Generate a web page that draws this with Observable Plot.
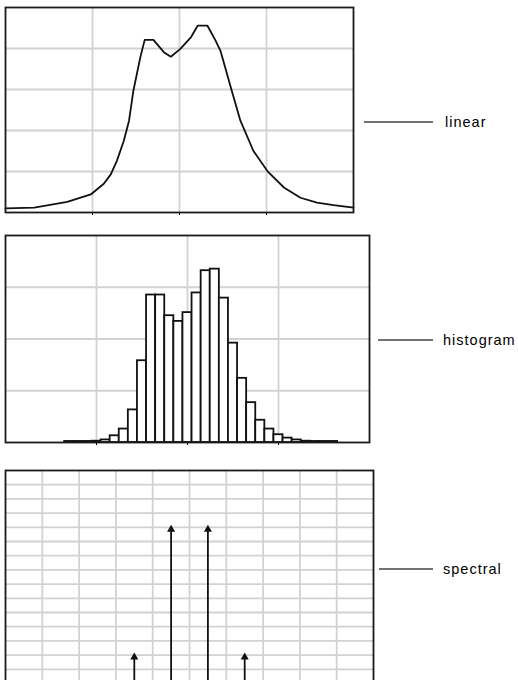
<!DOCTYPE html>
<html><head><meta charset="utf-8">
<script src="https://cdn.jsdelivr.net/npm/d3@7"></script>
<script src="https://cdn.jsdelivr.net/npm/@observablehq/plot@0.6"></script>
<style>
body{margin:0;background:#fff;}
#wrap{position:relative;width:518px;height:680px;overflow:hidden;background:#fff;}
.panel{position:absolute;left:0;}
#labels{position:absolute;left:0;top:0;}
</style></head><body>
<div id="wrap">
  <div class="panel" id="p1" style="top:0px"></div>
  <div class="panel" id="p2" style="top:228px"></div>
  <div class="panel" id="p3" style="top:463px"></div>
  <svg id="labels" width="518" height="680"></svg>
</div>
<script>
// ---- data ----
const linearX = [0, 0.33, 0.71, 0.98, 1.13, 1.21, 1.28, 1.36, 1.42, 1.47, 1.55, 1.60, 1.70, 1.82, 1.90, 2.01, 2.13, 2.21, 2.32, 2.41, 2.47, 2.59, 2.70, 2.85, 3.01, 3.20, 3.39, 3.58, 3.77, 4.0];
const linearY = [0.10, 0.12, 0.26, 0.44, 0.70, 0.93, 1.26, 1.75, 2.24, 2.97, 3.79, 4.21, 4.21, 3.91, 3.80, 3.99, 4.27, 4.56, 4.56, 4.21, 3.95, 3.05, 2.24, 1.50, 1.01, 0.61, 0.36, 0.24, 0.18, 0.12];

const histCenters = [0.7, 0.8, 0.9, 1.0, 1.1, 1.2, 1.3, 1.4, 1.5, 1.6, 1.7, 1.8, 1.9, 2.0, 2.1, 2.2, 2.3, 2.4, 2.5, 2.6, 2.7, 2.8, 2.9, 3.0, 3.1, 3.2, 3.3, 3.4, 3.5, 3.6];
const histCounts  = [0.02, 0.02, 0.02, 0.025, 0.05, 0.13, 0.26, 0.63, 1.58, 2.85, 2.85, 2.45, 2.34, 2.51, 2.89, 3.32, 3.35, 2.79, 1.92, 1.24, 0.77, 0.43, 0.26, 0.15, 0.085, 0.05, 0.025, 0.02, 0.02, 0.02];
const histBinWidth = 0.1;

const spectralX = [3.5, 4.5, 5.5, 6.5];
const spectralY = [2, 11, 11, 2];

const panelLabels = ["linear", "histogram", "spectral"];

// ---- tables built from arrays ----
const linearData = linearX.map((x, i) => ({x, y: linearY[i]}));
const histData = histCenters.map((c, i) => ({x1: c - histBinWidth / 2, x2: c + histBinWidth / 2, y: histCounts[i]}));
const spectralData = spectralX.map((x, i) => ({x, y: spectralY[i]}));

const GRID = "#d2d2d2";
function panel(o) {
  return Plot.plot({
    width: o.width, height: o.height,
    marginTop: 7, marginBottom: o.mb, marginLeft: 5, marginRight: o.mr,
    x: {domain: o.xd, axis: "bottom", ticks: o.xt, tickSize: 3, tickFormat: () => "", label: null},
    y: {domain: o.yd, axis: null},
    style: {background: "transparent", overflow: "visible"},
    marks: [
      Plot.ruleX(o.xt, {stroke: GRID, strokeWidth: 1.8}),
      Plot.ruleY(o.yt, {stroke: GRID, strokeWidth: 1.8}),
      ...o.marks,
      Plot.frame({stroke: "#1a1a1a", strokeWidth: 1.8})
    ]
  });
}

document.getElementById("p1").append(panel({
  width: 360, height: 230, mb: 18, mr: 7,
  xd: [0, 4], yd: [0, 5], xt: [1, 2, 3], yt: [1, 2, 3, 4],
  marks: [Plot.line(linearData, {x: "x", y: "y", stroke: "#111", strokeWidth: 1.8})]
}));

document.getElementById("p2").append(panel({
  width: 380, height: 232, mb: 18, mr: 11,
  xd: [0, 4], yd: [0, 4], xt: [1, 2, 3], yt: [1, 2, 3],
  marks: [Plot.rect(histData, {x1: "x1", x2: "x2", y1: 0, y2: "y", fill: "white", stroke: "#111", strokeWidth: 1.8})]
}));

document.getElementById("p3").append(panel({
  width: 380, height: 238, mb: 18, mr: 7,
  xd: [0, 10], yd: [0, 15], xt: d3.range(1, 10), yt: d3.range(1, 15),
  marks: [
    Plot.ruleX(spectralData, {x: "x", y1: 0, y2: "y", stroke: "#111", strokeWidth: 1.8}),
    Plot.dot(spectralData, {x: "x", y: "y", symbol: "triangle", r: 3, fill: "#111", stroke: "none", dy: 2})
  ]
}));

// ---- right-hand labels (legend-style) ----
const labelPos = [
  {x1: 364, x2: 433, y: 122, tx: 445},
  {x1: 378, x2: 433, y: 340, tx: 443},
  {x1: 379, x2: 433, y: 569, tx: 443}
];
const svg = d3.select("#labels");
labelPos.forEach((p, i) => {
  svg.append("line").attr("x1", p.x1).attr("x2", p.x2).attr("y1", p.y).attr("y2", p.y)
    .attr("stroke", "#444").attr("stroke-width", 1.4);
  svg.append("text").attr("x", p.tx).attr("y", p.y + 5)
    .attr("font-family", "'Liberation Sans', Arial, sans-serif").attr("font-size", 14.5)
    .attr("letter-spacing", 1).attr("fill", "#000")
    .text(panelLabels[i]);
});
</script>
</body></html>
